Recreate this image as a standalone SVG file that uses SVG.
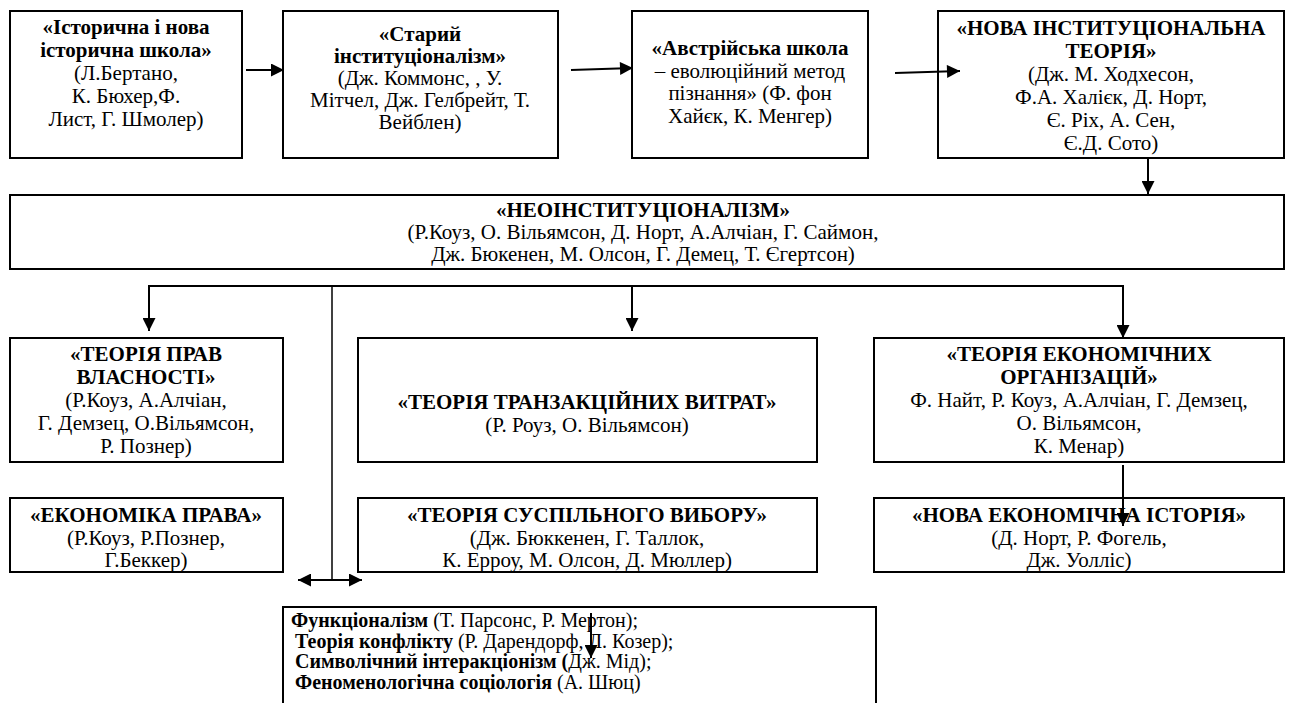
<svg xmlns="http://www.w3.org/2000/svg" width="1294" height="703" viewBox="0 0 1294 703">
<style>
.box{fill:#fff;stroke:#000;stroke-width:2}
.t{font-family:"Liberation Serif","Times New Roman",serif;font-size:21px;text-anchor:middle;fill:#000}
.l{font-family:"Liberation Serif","Times New Roman",serif;font-size:20px;text-anchor:start;fill:#000}
.b{font-weight:bold}
.c{stroke:#000;stroke-width:2;fill:none}
.thin{stroke:#000;stroke-width:1.5;fill:none}
</style>
<defs>
<marker id="ah" viewBox="0 0 10 10" refX="10" refY="5" markerWidth="14" markerHeight="13" markerUnits="userSpaceOnUse" orient="auto-start-reverse">
<path d="M0,0 L10,5 L0,10 z" fill="#000"/>
</marker>
</defs>
<rect width="1294" height="703" fill="#fff"/>

<g id="n1">
<rect class="box" x="10" y="11" width="232" height="147"/>
<text class="t b" x="126" y="34">«Історична і нова</text>
<text class="t b" x="126" y="57">історична школа»</text>
<text class="t" x="126" y="80">(Л.Бертано,</text>
<text class="t" x="126" y="103">К. Бюхер,Ф.</text>
<text class="t" x="126" y="126">Лист, Г. Шмолер)</text>
</g>

<g id="n2">
<rect class="box" x="283" y="11" width="275" height="147"/>
<text class="t b" x="420" y="41">«Старий</text>
<text class="t b" x="420" y="63">інституціоналізм»</text>
<text class="t" x="420" y="85">(Дж. Коммонс, , У.</text>
<text class="t" x="420" y="107">Мітчел, Дж. Гелбрейт, Т.</text>
<text class="t" x="420" y="129">Вейблен)</text>
</g>

<g id="n3">
<rect class="box" x="632" y="11" width="236" height="147"/>
<text class="t b" x="750" y="55">«Австрійська школа</text>
<text class="t" x="750" y="77.5">– еволюційний метод</text>
<text class="t" x="750" y="100">пізнання» (Ф. фон</text>
<text class="t" x="750" y="122.5">Хайєк, К. Менгер)</text>
</g>

<g id="n4">
<rect class="box" x="938" y="11" width="346" height="147"/>
<text class="t b" x="1111" y="35">«НОВА ІНСТИТУЦІОНАЛЬНА</text>
<text class="t b" x="1111" y="58">ТЕОРІЯ»</text>
<text class="t" x="1111" y="81">(Дж. М. Ходхесон,</text>
<text class="t" x="1111" y="104">Ф.А. Халієк, Д. Норт,</text>
<text class="t" x="1111" y="127">Є. Ріх, А. Сен,</text>
<text class="t" x="1111" y="150">Є.Д. Сото)</text>
</g>

<g id="n5">
<rect class="box" x="10" y="195" width="1274" height="74"/>
<text class="t b" x="643" y="217">«НЕОІНСТИТУЦІОНАЛІЗМ»</text>
<text class="t" x="643" y="239">(Р.Коуз, О. Вільямсон, Д. Норт, А.Алчіан, Г. Саймон,</text>
<text class="t" x="643" y="261">Дж. Бюкенен, М. Олсон, Г. Демец, Т. Єгертсон)</text>
</g>

<g id="n6">
<rect class="box" x="10" y="338" width="273" height="124"/>
<text class="t b" x="146" y="361">«ТЕОРІЯ ПРАВ</text>
<text class="t b" x="146" y="384">ВЛАСНОСТІ»</text>
<text class="t" x="146" y="407">(Р.Коуз, А.Алчіан,</text>
<text class="t" x="146" y="430">Г. Демзец, О.Вільямсон,</text>
<text class="t" x="146" y="453">Р. Познер)</text>
</g>

<g id="n7">
<rect class="box" x="358" y="338" width="459" height="124"/>
<text class="t b" x="587" y="409">«ТЕОРІЯ ТРАНЗАКЦІЙНИХ ВИТРАТ»</text>
<text class="t" x="587" y="432">(Р. Роуз, О. Вільямсон)</text>
</g>

<g id="n8">
<rect class="box" x="874" y="338" width="410" height="124"/>
<text class="t b" x="1079" y="361">«ТЕОРІЯ ЕКОНОМІЧНИХ</text>
<text class="t b" x="1079" y="384">ОРГАНІЗАЦІЙ»</text>
<text class="t" x="1079" y="407">Ф. Найт, Р. Коуз, А.Алчіан, Г. Демзец,</text>
<text class="t" x="1079" y="430">О. Вільямсон,</text>
<text class="t" x="1079" y="453">К. Менар)</text>
</g>

<g id="n9">
<rect class="box" x="10" y="498" width="273" height="74"/>
<text class="t b" x="146" y="522">«ЕКОНОМІКА ПРАВА»</text>
<text class="t" x="146" y="545">(Р.Коуз, Р.Познер,</text>
<text class="t" x="146" y="567">Г.Беккер)</text>
</g>

<g id="n10">
<rect class="box" x="358" y="498" width="459" height="74"/>
<text class="t b" x="587" y="522">«ТЕОРІЯ СУСПІЛЬНОГО ВИБОРУ»</text>
<text class="t" x="587" y="545">(Дж. Бюккенен, Г. Таллок,</text>
<text class="t" x="587" y="567">К. Ерроу, М. Олсон, Д. Мюллер)</text>
</g>

<g id="n11">
<rect class="box" x="874" y="498" width="410" height="74"/>
<text class="t b" x="1079" y="522">«НОВА ЕКОНОМІЧНА ІСТОРІЯ»</text>
<text class="t" x="1079" y="545">(Д. Норт, Р. Фогель,</text>
<text class="t" x="1079" y="567">Дж. Уолліс)</text>
</g>

<g id="n12">
<rect class="box" x="283" y="607" width="593" height="110"/>
<text class="l" x="291" y="627"><tspan class="b">Функціоналізм</tspan> (Т. Парсонс, Р. Мертон);</text>
<text class="l" x="295" y="648"><tspan class="b">Теорія конфлікту</tspan> (Р. Дарендорф, Л. Козер);</text>
<text class="l" x="295" y="668"><tspan class="b">Символічний інтеракціонізм (</tspan>Дж. Мід);</text>
<text class="l" x="295" y="689"><tspan class="b">Феноменологічна соціологія</tspan> (А. Шюц)</text>
</g>

<g id="connectors">
<line class="c" x1="246" y1="70" x2="284" y2="70" marker-end="url(#ah)"/>
<line class="c" x1="571" y1="70" x2="633" y2="68" marker-end="url(#ah)"/>
<line class="c" x1="895" y1="73" x2="960" y2="71" marker-end="url(#ah)"/>
<line class="c" x1="1148" y1="158" x2="1148" y2="194" marker-end="url(#ah)"/>
<polyline class="c" points="149,331 149,286 1123,286 1123,338" marker-start="url(#ah)" marker-end="url(#ah)"/>
<line class="c" x1="632" y1="286" x2="632" y2="331" marker-end="url(#ah)"/>
<line class="thin" x1="332" y1="286" x2="332" y2="580"/>
<line class="c" x1="298" y1="580" x2="362" y2="580" marker-start="url(#ah)" marker-end="url(#ah)"/>
<line class="c" x1="1123" y1="465" x2="1123" y2="526" marker-end="url(#ah)"/>
<line class="c" x1="591" y1="613" x2="591" y2="658" marker-end="url(#ah)"/>
</g>
</svg>
